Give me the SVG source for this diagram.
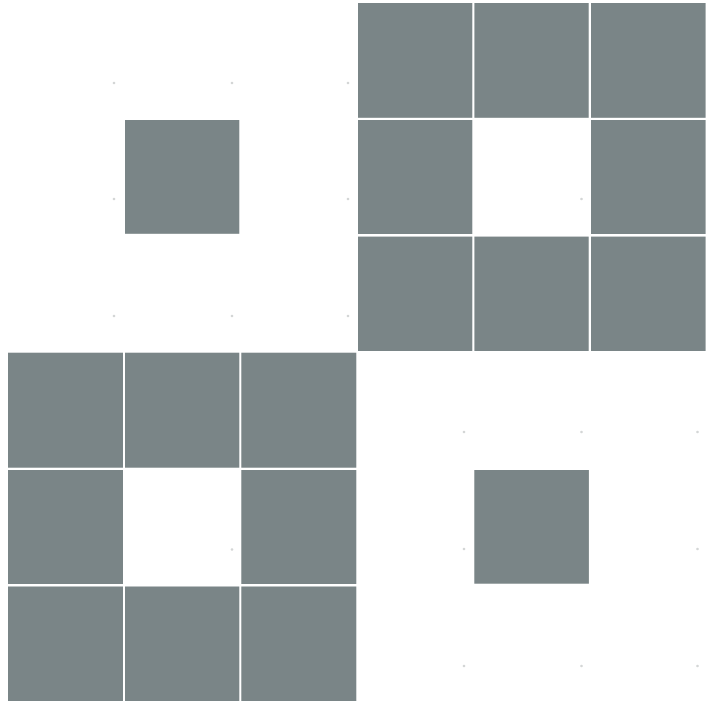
<svg xmlns="http://www.w3.org/2000/svg" width="707" height="704" viewBox="0 0 707 704">
<style>
.sq{fill:#7a8587}
.dot{fill:#d4d6d6}
</style>
<rect width="707" height="704" fill="#ffffff"/>
<g id="top-left">
<rect class="sq" x="125" y="120" width="114.3" height="113.8"/>
<g>
<circle class="dot" cx="114" cy="83" r="1.3"/><circle class="dot" cx="232" cy="83" r="1.3"/><circle class="dot" cx="348" cy="83" r="1.3"/>
<circle class="dot" cx="114" cy="199" r="1.3"/><circle class="dot" cx="348" cy="199" r="1.3"/>
<circle class="dot" cx="114" cy="316" r="1.3"/><circle class="dot" cx="232" cy="316" r="1.3"/><circle class="dot" cx="348" cy="316" r="1.3"/>
</g>
</g>
<g id="top-right">
<rect class="sq" x="358" y="3" width="114.3" height="114.8"/>
<rect class="sq" x="474.4" y="3" width="114.3" height="114.8"/>
<rect class="sq" x="591" y="3" width="114.6" height="114.8"/>
<rect class="sq" x="358" y="120" width="114.3" height="114"/>
<rect class="sq" x="591" y="120" width="114.6" height="114"/>
<rect class="sq" x="358" y="236.6" width="114.3" height="114.4"/>
<rect class="sq" x="474.4" y="236.6" width="114.3" height="114.4"/>
<rect class="sq" x="591" y="236.6" width="114.6" height="114.4"/>
<circle class="dot" cx="581.5" cy="199" r="1.3"/>
</g>
<g id="bottom-left">
<rect class="sq" x="8" y="352.7" width="115" height="115"/>
<rect class="sq" x="125" y="352.7" width="114.3" height="115"/>
<rect class="sq" x="241.3" y="352.7" width="115" height="115"/>
<rect class="sq" x="8" y="470" width="115" height="114"/>
<rect class="sq" x="241.3" y="470" width="115" height="114"/>
<rect class="sq" x="8" y="586.5" width="115" height="114.5"/>
<rect class="sq" x="125" y="586.5" width="114.3" height="114.5"/>
<rect class="sq" x="241.3" y="586.5" width="115" height="114.5"/>
<circle class="dot" cx="232" cy="549.5" r="1.3"/>
</g>
<g id="bottom-right">
<rect class="sq" x="474.3" y="470" width="114.6" height="113.7"/>
<g>
<circle class="dot" cx="464" cy="432" r="1.3"/><circle class="dot" cx="581.5" cy="432" r="1.3"/><circle class="dot" cx="697.5" cy="432" r="1.3"/>
<circle class="dot" cx="464" cy="549" r="1.3"/><circle class="dot" cx="697.5" cy="549" r="1.3"/>
<circle class="dot" cx="464" cy="666" r="1.3"/><circle class="dot" cx="581.5" cy="666" r="1.3"/><circle class="dot" cx="697.5" cy="666" r="1.3"/>
</g>
</g>
</svg>
